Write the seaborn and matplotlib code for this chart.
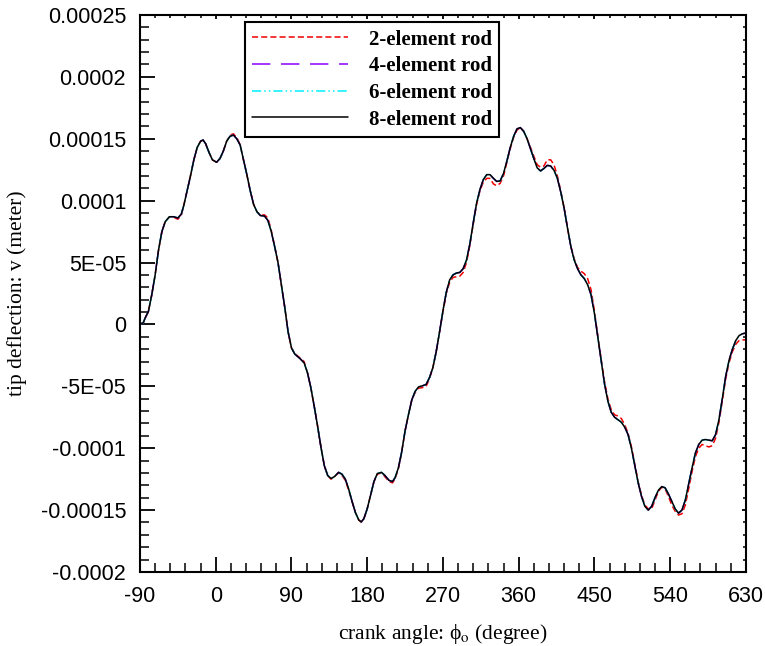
import numpy as np
import pandas as pd
import matplotlib
matplotlib.use("Agg")
import matplotlib.pyplot as plt
from matplotlib.ticker import MultipleLocator, FixedLocator, FixedFormatter
import seaborn as sns

# crank angle (degree)
theta = [-90, -86, -84, -80, -76, -72, -68, -64, -60, -55, -50, -45, -41, -38, -34, -30,
         -26, -22, -18, -15, -12, -8, -4, 1, 5, 9, 13, 17, 21, 25, 29, 33, 37, 41, 45,
         49, 53, 58, 62, 66, 70, 74, 78, 82, 86, 90, 94, 100, 105, 109, 113, 117, 121,
         125, 129, 133, 137, 141, 146, 150, 154, 158, 162, 166, 170, 173, 176, 180, 184,
         188, 192, 197, 201, 206, 210, 213, 217, 221, 225, 229, 233, 237, 241, 246, 250,
         254, 258, 262, 266, 270, 274, 278, 282, 286, 290, 294, 298, 302, 306, 310, 314,
         318, 322, 326, 330, 334, 338, 342, 346, 350, 354, 358, 362, 366, 370, 374, 378,
         382, 386, 390, 394, 398, 402, 406, 410, 414, 418, 422, 426, 430, 434, 438, 442,
         446, 450, 454, 458, 462, 466, 470, 474, 478, 482, 486, 490, 494, 498, 502, 506,
         510, 514, 518, 522, 526, 530, 534, 538, 542, 546, 550, 554, 558, 562, 566, 570,
         574, 578, 582, 586, 590, 594, 598, 602, 606, 610, 614, 618, 622, 626, 630]

# tip deflection, units of 1e-5 m, 8-element rod
v8 = [0, 0.15, 0.5, 1.05, 2.4, 4.0, 6.0, 7.5, 8.3, 8.7, 8.7, 8.6, 8.9, 9.6, 10.8, 12.0,
      13.3, 14.3, 14.8, 14.9, 14.6, 13.9, 13.3, 13.1, 13.4, 14.0, 14.8, 15.2, 15.3, 15.0,
      14.5, 13.3, 12.1, 10.8, 9.7, 9.1, 8.8, 8.75, 8.4, 7.5, 6.3, 5.0, 3.2, 1.4, -0.6,
      -1.9, -2.4, -2.75, -3.1, -3.9, -5.1, -6.6, -8.2, -9.9, -11.4, -12.2, -12.45,
      -12.3, -11.95, -12.1, -12.5, -13.3, -14.3, -15.2, -15.8, -15.95, -15.7, -14.9,
      -13.8, -12.7, -12.05, -11.95, -12.2, -12.6, -12.7, -12.4, -11.6, -10.3, -8.6,
      -7.3, -6.1, -5.4, -5.05, -4.95, -4.85, -4.3, -3.5, -2.2, -0.6, 1.1, 2.6, 3.6, 4.0,
      4.15, 4.2, 4.5, 5.2, 6.5, 8.2, 9.8, 10.9, 11.7, 12.1, 12.1, 11.8, 11.55, 11.6,
      12.2, 13.2, 14.3, 15.2, 15.8, 15.9, 15.6, 15.0, 14.2, 13.4, 12.65, 12.4, 12.6,
      12.85, 12.8, 12.45, 11.8, 10.7, 9.4, 7.8, 6.3, 5.2, 4.5, 4.0, 3.7, 3.2, 2.4, 0.9,
      -1.0, -2.9, -4.8, -6.2, -7.1, -7.5, -7.7, -7.9, -8.3, -8.9, -10.0, -11.4, -12.8,
      -13.9, -14.7, -15.0, -14.7, -14.0, -13.4, -13.1, -13.2, -13.7, -14.3, -14.9,
      -15.25, -15.0, -14.2, -12.9, -11.6, -10.4, -9.7, -9.35, -9.3, -9.35, -9.4, -8.9,
      -7.7, -6.0, -4.2, -2.9, -2.0, -1.3, -0.9, -0.75, -0.7]

# 6-element rod
v6 = list(v8)

# 4-element rod
v4 = list(v8)

# 2-element rod
v2 = [0, 0.15, 0.5, 1.05, 2.4, 4.0, 6.0, 7.5, 8.3, 8.7, 8.65, 8.5, 8.8, 9.6, 10.8, 12.0,
      13.3, 14.3, 14.8, 14.9, 14.6, 13.9, 13.3, 13.1, 13.4, 14.0, 14.8, 15.3, 15.4, 15.1,
      14.5, 13.3, 12.1, 10.8, 9.7, 9.1, 8.85, 8.85, 8.6, 7.6, 6.3, 5.0, 3.2, 1.4, -0.6,
      -1.9, -2.35, -2.7, -3.0, -3.9, -5.1, -6.6, -8.2, -9.9, -11.4, -12.2, -12.5,
      -12.3, -12.0, -12.2, -12.6, -13.4, -14.3, -15.2, -15.8, -16.0, -15.7, -14.9,
      -13.8, -12.7, -12.1, -12.0, -12.3, -12.7, -12.8, -12.5, -11.7, -10.3, -8.6,
      -7.3, -6.1, -5.5, -5.15, -5.1, -5.0, -4.4, -3.5, -2.2, -0.6, 1.0, 2.5, 3.4, 3.8,
      3.85, 3.9, 4.2, 5.0, 6.4, 8.1, 9.7, 10.8, 11.5, 11.8, 11.8, 11.35, 11.2, 11.4,
      12.0, 13.1, 14.2, 15.1, 15.7, 15.9, 15.6, 15.0, 14.3, 13.6, 12.9, 12.7, 12.8,
      13.3, 13.3, 12.9, 12.0, 10.8, 9.4, 7.8, 6.3, 5.3, 4.6, 4.3, 4.1, 3.7, 2.8, 1.1,
      -0.9, -2.8, -4.6, -6.0, -6.9, -7.3, -7.4, -7.6, -8.1, -8.8, -9.9, -11.3, -12.7,
      -13.8, -14.6, -14.9, -14.9, -14.2, -13.5, -13.15, -13.3, -13.9, -14.6, -15.1,
      -15.4, -15.3, -14.6, -13.3, -11.9, -10.7, -10.0, -9.7, -9.8, -9.9, -9.8, -9.2,
      -7.9, -6.2, -4.4, -3.1, -2.2, -1.6, -1.3, -1.25, -1.25]

series_names = ["2-element rod", "4-element rod", "6-element rod", "8-element rod"]
series_colors = ["#f00000", "#8a00ff", "#00f0ff", "#000000"]

x_ticks = [-90, 0, 90, 180, 270, 360, 450, 540, 630]
y_ticks = [0.00025, 0.0002, 0.00015, 0.0001, 5e-05, 0, -5e-05, -0.0001, -0.00015, -0.0002]
y_tick_labels = ["0.00025", "0.0002", "0.00015", "0.0001", "5E-05", "0",
                 "-5E-05", "-0.0001", "-0.00015", "-0.0002"]

sns.set_theme(style="white")
plt.rcParams["font.family"] = ["Liberation Sans", "DejaVu Sans"]
plt.rcParams["mathtext.fontset"] = "stix"
plt.rcParams["axes.unicode_minus"] = False
plt.rcParams["text.color"] = "black"
plt.rcParams["axes.labelcolor"] = "black"
plt.rcParams["xtick.color"] = "black"
plt.rcParams["ytick.color"] = "black"

fig = plt.figure(figsize=(7.65, 6.46), dpi=100)
ax = fig.add_axes([0.183, 0.1146, 0.792, 0.8622])

df = pd.DataFrame({"theta": theta})
for name, vals in zip(series_names, [v2, v4, v6, v8]):
    df[name] = np.array(vals) * 1e-5

styles = [(0, (4.0, 2.0)), (0, (12.0, 7.0)), (0, (6.0, 2.0, 1.0, 2.0, 1.0, 2.0)), "-"]
for name, color, ls in zip(series_names, series_colors, styles):
    sns.lineplot(data=df, x="theta", y=name, ax=ax, color=color, linestyle=ls,
                 linewidth=1.1, label=name, sort=False, estimator=None)

ax.set_xlim(-90, 630)
ax.set_ylim(-0.0002, 0.00025)

ax.xaxis.set_major_locator(FixedLocator(x_ticks))
ax.xaxis.set_minor_locator(MultipleLocator(18))
ax.yaxis.set_major_locator(FixedLocator(y_ticks))
ax.yaxis.set_major_formatter(FixedFormatter(y_tick_labels))
ax.yaxis.set_minor_locator(MultipleLocator(1e-5))

ax.tick_params(which="major", direction="in", length=11, width=1.3, labelsize=15.5,
               pad=10, top=True, right=True, bottom=True, left=True,
               color="black", labelcolor="black")
ax.tick_params(which="minor", direction="in", length=6.5, width=1.1,
               top=True, right=True, bottom=True, left=True, color="black")
ax.tick_params(which="both", axis="both", labeltop=False, labelright=False)
for t in ax.xaxis.get_major_ticks() + ax.yaxis.get_major_ticks():
    t.tick2line.set_markersize(3)
for t in ax.xaxis.get_minor_ticks() + ax.yaxis.get_minor_ticks():
    t.tick2line.set_markersize(2)

for s in ax.spines.values():
    s.set_visible(True)
    s.set_color("black")
    s.set_linewidth(1.5)

serif = ["Liberation Serif", "DejaVu Serif"]
ax.set_xlabel("crank angle: \u03d5$_{\\rm o}$ (degree)", fontsize=15.5, family=serif,
              labelpad=11, color="black")
ax.set_ylabel("tip deflection: v (meter)", fontsize=15.5, family=serif, labelpad=10,
              color="black")

leg = ax.legend(loc="upper left", bbox_to_anchor=(0.173, 0.987), frameon=True,
                fancybox=False, edgecolor="black", framealpha=1,
                prop={"family": serif, "weight": "bold", "size": 15},
                handlelength=4.6, handletextpad=1.0, labelspacing=0.32,
                borderpad=0.35, borderaxespad=0)
leg.get_frame().set_linewidth(1.5)
for txt in leg.get_texts():
    txt.set_color("black")

fig.savefig("out.png", dpi=100)
